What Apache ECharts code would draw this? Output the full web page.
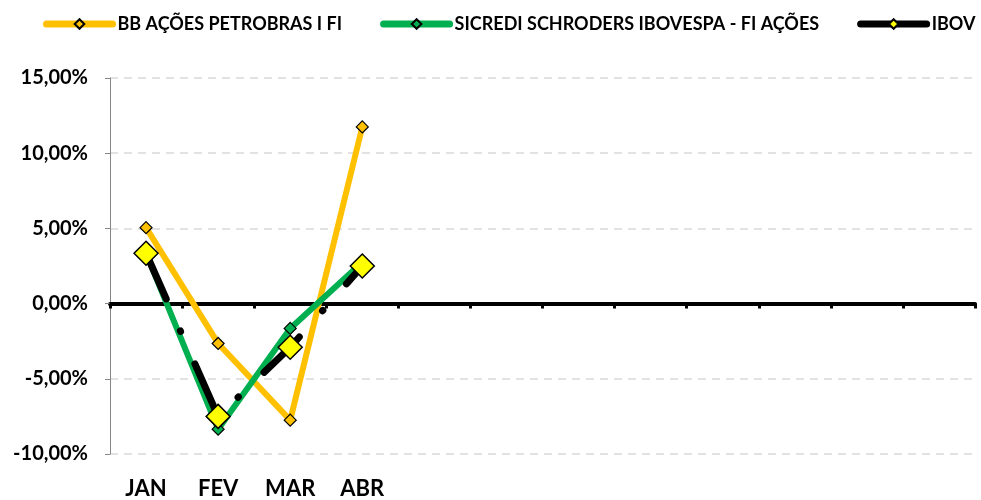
<!DOCTYPE html>
<html>
<head>
<meta charset="utf-8">
<script src="https://cdn.jsdelivr.net/npm/echarts@6/dist/echarts.min.js"></script>
<style>
  html, body { margin: 0; padding: 0; background: #fff; }
  #chart { width: 981px; height: 500px; }
</style>
</head>
<body>
<div id="chart"></div>
<script>
// months on the axis (only the first four have data)
const months = ['JAN', 'FEV', 'MAR', 'ABR', '', '', '', '', '', '', '', '']

// monthly returns, in %
const bbPetrobras = [5.05, -2.65, -7.75, 11.75]
const sicrediSchroders = [3.35, -8.35, -1.65, 2.75]
const ibov = [3.35, -7.5, -2.9, 2.5]

const yTicks = { min: -10, max: 15, step: 5 }

const FONT = 'Lato'

const fmtPct = v => v.toFixed(2).replace('.', ',') + '%'

const chart = echarts.init(document.getElementById('chart'))

const option = {
  animation: false,
  textStyle: { fontFamily: FONT },
  legend: {
    top: 10,
    left: 38,
    width: 943,
    itemWidth: 66,
    itemHeight: 12,
    itemGap: 38,
    lineStyle: { width: 7, cap: 'round' },
    textStyle: { fontFamily: FONT, fontWeight: 'bold', fontSize: 18, color: '#000' },
    data: [
      { name: 'BB AÇÕES PETROBRAS I FI' },
      { name: 'SICREDI SCHRODERS IBOVESPA - FI AÇÕES' },
      { name: 'IBOV', lineStyle: { type: 'solid', width: 7, cap: 'round' } }
    ]
  },
  grid: {
    left: 110,
    right: 6,
    top: 78,
    bottom: 45
  },
  xAxis: [
    {
      // labels along the bottom
      type: 'category',
      data: months,
      axisLine: { show: false, onZero: false },
      axisTick: { show: false },
      axisLabel: {
        margin: 24,
        fontFamily: FONT,
        fontSize: 22,
        fontWeight: 'bold',
        color: '#000',
        interval: 0
      }
    },
    {
      // thick line on zero with ticks
      type: 'category',
      data: months,
      position: 'bottom',
      axisLine: { onZero: true, lineStyle: { color: '#000', width: 4 } },
      axisTick: { show: true, length: 5, lineStyle: { color: '#000', width: 3 } },
      axisLabel: { show: false }
    }
  ],
  yAxis: {
    type: 'value',
    min: yTicks.min,
    max: yTicks.max,
    interval: yTicks.step,
    axisLine: { show: true, lineStyle: { color: '#868686', width: 1 } },
    axisTick: { show: true, length: 5, lineStyle: { color: '#868686' } },
    axisLabel: {
      margin: 22,
      formatter: fmtPct,
      fontFamily: FONT,
      fontSize: 20,
      fontWeight: 'bold',
      color: '#000'
    },
    splitLine: {
      lineStyle: { color: '#D9D9D9', width: 1.5, type: [8, 6] }
    }
  },
  series: [
    {
      name: 'BB AÇÕES PETROBRAS I FI',
      type: 'line',
      data: bbPetrobras,
      symbol: 'diamond',
      symbolSize: 12,
      lineStyle: { color: '#FFC000', width: 6 },
      itemStyle: { color: '#FFC000', borderColor: '#000', borderWidth: 1.2 }
    },
    {
      name: 'SICREDI SCHRODERS IBOVESPA - FI AÇÕES',
      type: 'line',
      data: sicrediSchroders,
      symbol: 'diamond',
      symbolSize: 12,
      lineStyle: { color: '#00B050', width: 6 },
      itemStyle: { color: '#00B050', borderColor: '#000', borderWidth: 1.2 }
    },
    {
      name: 'IBOV',
      type: 'line',
      data: ibov,
      symbol: 'diamond',
      symbolSize: 24,
      lineStyle: { color: '#000', width: 7, type: [50, 35, 0.5, 35.5], cap: 'round' },
      itemStyle: { color: '#FFFF00', borderColor: '#000', borderWidth: 1.5 }
    }
  ]
}

chart.setOption(option)
</script>
</body>
</html>
